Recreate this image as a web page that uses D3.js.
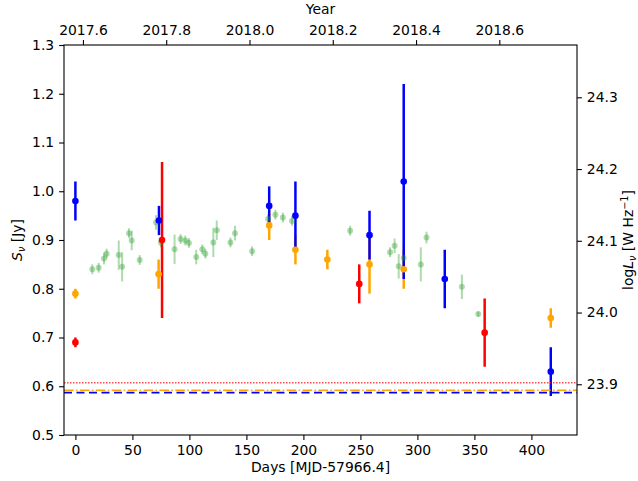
<!DOCTYPE html>
<html>
<head>
<meta charset="utf-8">
<script src="https://cdn.jsdelivr.net/npm/d3@7"></script>
<style>
  html, body { margin: 0; padding: 0; background: #fff; }
  svg text { font-family: "DejaVu Sans", sans-serif; fill: #000; }
</style>
</head>
<body>
<svg id="chart" width="638" height="481"></svg>
<script>
// Light curve: flux density per observing band against days since MJD 57966.4
const greenDays = [14.8, 20.4, 25.1, 27.4, 38, 41, 47, 49.4, 56.4, 70.7, 75, 87, 92.3, 96.4, 99.6, 106, 111.3, 114, 121, 124, 136, 140, 155, 169, 175.4, 182, 190, 241, 276, 280, 283.6, 288, 303, 308, 339, 353.4];
const greenFlux = [0.840, 0.843, 0.862, 0.872, 0.869, 0.845, 0.914, 0.899, 0.859, 0.936, 0.895, 0.881, 0.902, 0.899, 0.894, 0.865, 0.881, 0.872, 0.895, 0.920, 0.895, 0.914, 0.877, 0.943, 0.952, 0.946, 0.939, 0.919, 0.875, 0.888, 0.846, 0.863, 0.850, 0.905, 0.804, 0.748];
const greenErr  = [0.010, 0.010, 0.012, 0.010, 0.030, 0.030, 0.010, 0.020, 0.010, 0.015, 0.010, 0.030, 0.010, 0.010, 0.010, 0.015, 0.010, 0.010, 0.030, 0.020, 0.010, 0.015, 0.010, 0.010, 0.010, 0.010, 0.010, 0.010, 0.010, 0.015, 0.025, 0.030, 0.035, 0.012, 0.025, 0.005];

const blueDays = [0, 73.3, 170, 193, 258, 288, 324, 417];
const blueFlux = [0.98, 0.94, 0.97, 0.95, 0.91, 1.02, 0.82, 0.63];
const blueErr  = [0.04, 0.03, 0.04, 0.07, 0.05, 0.20, 0.06, 0.05];

const redDays = [0, 76, 249, 359];
const redFlux = [0.69, 0.90, 0.81, 0.71];
const redErr  = [0.01, 0.16, 0.04, 0.07];

const orangeDays = [0, 73, 170, 193, 221, 258, 288, 417];
const orangeFlux = [0.79, 0.83, 0.93, 0.88, 0.86, 0.85, 0.84, 0.74];
const orangeErr  = [0.01, 0.03, 0.03, 0.03, 0.02, 0.06, 0.04, 0.02];

// Reference flux levels per band
const redLevel = 0.607;
const orangeLevel = 0.592;
const blueLevel = 0.587;

const dayTicks = [0, 50, 100, 150, 200, 250, 300, 350, 400];
const fluxTicks = [0.5, 0.6, 0.7, 0.8, 0.9, 1.0, 1.1, 1.2, 1.3];
const yearTicks = [2017.6, 2017.8, 2018.0, 2018.2, 2018.4, 2018.6];
const lumTicks = [23.9, 24.0, 24.1, 24.2, 24.3];

const epochYear = 2017.5819; // decimal year of MJD 57966.4

const svg = d3.select("#chart");
const plotLeft = 64, plotRight = 577, plotTop = 45, plotBottom = 435;

const x = d3.scaleLinear().domain([-10, 440]).range([plotLeft, plotRight]);
const y = d3.scaleLinear().domain([0.5, 1.3]).range([plotBottom, plotTop]);
const xYear = d3.scaleLinear()
  .domain([epochYear - 10 / 365.25, epochYear + 440 / 365.25])
  .range([plotLeft, plotRight]);
const yLum = d3.scaleLinear().domain([23.8293, 24.3729]).range([plotBottom, plotTop]);

const fontSize = 13.9;

svg.append("defs").append("clipPath").attr("id", "plotclip")
  .append("rect").attr("x", plotLeft).attr("y", plotTop)
  .attr("width", plotRight - plotLeft).attr("height", plotBottom - plotTop);

const plot = svg.append("g").attr("clip-path", "url(#plotclip)");
const barLayer = plot.append("g");
const markerLayer = plot.append("g");

function drawBars(days, flux, err, color, lw, alpha) {
  barLayer.append("g").selectAll("line").data(days).join("line")
    .attr("x1", d => x(d)).attr("x2", d => x(d))
    .attr("y1", (d, i) => y(flux[i] - err[i])).attr("y2", (d, i) => y(flux[i] + err[i]))
    .attr("stroke", color).attr("stroke-width", lw).attr("opacity", alpha);
}
function drawMarkers(days, flux, color, r, alpha) {
  markerLayer.append("g").selectAll("circle").data(days).join("circle")
    .attr("cx", d => x(d)).attr("cy", (d, i) => y(flux[i])).attr("r", r)
    .attr("fill", color).attr("opacity", alpha);
}

// green monitoring points sit underneath everything
drawBars(greenDays, greenFlux, greenErr, "#2ca02c", 2, 0.38);
drawMarkers(greenDays, greenFlux, "#2ca02c", 3, 0.38);

drawBars(orangeDays, orangeFlux, orangeErr, "#ffa500", 2.5, 1);
drawBars(redDays, redFlux, redErr, "#ff0000", 2.5, 1);
drawBars(blueDays, blueFlux, blueErr, "#0000ff", 2.5, 1);

drawMarkers(blueDays, blueFlux, "#0000ff", 3.3, 1);
drawMarkers(redDays, redFlux, "#ff0000", 3.3, 1);
drawMarkers(orangeDays, orangeFlux, "#ffa500", 3.3, 1);

// horizontal reference levels
plot.append("line").attr("x1", plotLeft).attr("x2", plotRight)
  .attr("y1", y(redLevel)).attr("y2", y(redLevel))
  .attr("stroke", "#ff0000").attr("stroke-width", 1.5).attr("opacity", 0.7)
  .attr("stroke-dasharray", "1.5,1.5");
plot.append("line").attr("x1", plotLeft).attr("x2", plotRight)
  .attr("y1", y(orangeLevel)).attr("y2", y(orangeLevel))
  .attr("stroke", "#ffa500").attr("stroke-width", 1.5)
  .attr("stroke-dasharray", "9.6,2.4,1.5,2.4");
plot.append("line").attr("x1", plotLeft).attr("x2", plotRight)
  .attr("y1", y(blueLevel)).attr("y2", y(blueLevel))
  .attr("stroke", "#0000ff").attr("stroke-width", 1.6)
  .attr("stroke-dasharray", "8,4.5");

function styleAxis(g) {
  g.select(".domain").remove();
  g.selectAll(".tick line").attr("stroke", "#000").attr("stroke-width", 1.1);
  g.selectAll(".tick text").attr("font-size", fontSize).attr("fill", "#000")
    .style("font-family", "DejaVu Sans, sans-serif");
}

svg.append("g").attr("transform", `translate(0,${plotBottom})`)
  .call(d3.axisBottom(x).tickValues(dayTicks).tickFormat(d3.format("d")).tickSize(4.9).tickPadding(4.9))
  .call(styleAxis);

svg.append("g").attr("transform", `translate(${plotLeft},0)`)
  .call(d3.axisLeft(y).tickValues(fluxTicks).tickFormat(d3.format(".1f")).tickSize(4.9).tickPadding(4.9))
  .call(styleAxis);

svg.append("g").attr("transform", `translate(0,${plotTop})`)
  .call(d3.axisTop(xYear).tickValues(yearTicks).tickFormat(d3.format(".1f")).tickSize(4.9).tickPadding(4.9))
  .call(styleAxis);

svg.append("g").attr("transform", `translate(${plotRight},0)`)
  .call(d3.axisRight(yLum).tickValues(lumTicks).tickFormat(d3.format(".1f")).tickSize(4.9).tickPadding(4.9))
  .call(styleAxis);

// frame
svg.append("rect").attr("x", plotLeft).attr("y", plotTop)
  .attr("width", plotRight - plotLeft).attr("height", plotBottom - plotTop)
  .attr("fill", "none").attr("stroke", "#000").attr("stroke-width", 1.1);

// axis titles
svg.append("text").attr("x", (plotLeft + plotRight) / 2).attr("y", 472)
  .attr("text-anchor", "middle").attr("font-size", fontSize)
  .text("Days [MJD-57966.4]");

svg.append("text").attr("x", (plotLeft + plotRight) / 2).attr("y", 14)
  .attr("text-anchor", "middle").attr("font-size", fontSize)
  .text("Year");

const yl = svg.append("text")
  .attr("transform", `translate(22,${(plotTop + plotBottom) / 2}) rotate(-90)`)
  .attr("text-anchor", "middle").attr("font-size", fontSize);
yl.append("tspan").attr("font-style", "italic").text("S");
yl.append("tspan").attr("font-style", "italic").attr("font-size", fontSize * 0.7).attr("dy", 3).text("ν");
yl.append("tspan").attr("dy", -3).text(" [Jy]");

const yr = svg.append("text")
  .attr("transform", `translate(633,${(plotTop + plotBottom) / 2}) rotate(-90)`)
  .attr("text-anchor", "middle").attr("font-size", fontSize);
yr.append("tspan").text("log");
yr.append("tspan").attr("font-style", "italic").text("L");
yr.append("tspan").attr("font-style", "italic").attr("font-size", fontSize * 0.7).attr("dy", 3).text("ν");
yr.append("tspan").attr("dy", -3).text(" [W Hz");
yr.append("tspan").attr("font-size", fontSize * 0.7).attr("dy", -5).text("−1");
yr.append("tspan").attr("dy", 5).text("]");
</script>
</body>
</html>
